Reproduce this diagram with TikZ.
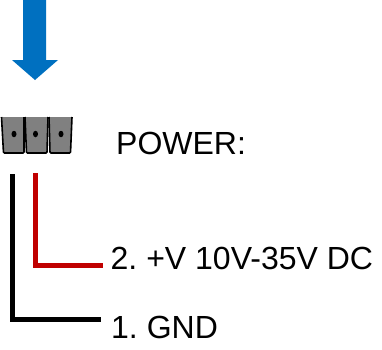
\documentclass[tikz,border=0pt]{standalone}
\usepackage{fontspec}
\setmainfont{Liberation Sans}
\usepackage{xcolor}
\usetikzlibrary{calc, positioning, shapes.geometric}
\definecolor{arrowblue}{RGB}{0,112,192}
\definecolor{wirered}{RGB}{192,0,0}
\definecolor{pingray}{RGB}{128,128,128}
\frenchspacing

\begin{document}
\begin{tikzpicture}[
    x=1pt, y=-1pt,
    label/.style={anchor=base west, inner sep=0pt, font=\fontsize{32}{33}\selectfont},
    wire/.style={line width=5pt, miter limit=10},
    pin/.style={fill=pingray, draw=black, line width=1.6pt, rounded corners=1pt},
    pinhole/.style={fill=black, draw=none, ellipse, minimum width=5pt, minimum height=6.5pt, inner sep=0pt}
]
\useasboundingbox (0,0) rectangle (382,349);

% Arrow
\fill[arrowblue] (23,0) -- (46,0) -- (46,60) -- (58,60) -- (35,80) -- (12,60) -- (23,60) -- cycle;

% Pins
\draw[pin] (1.5,117) -- (3.5,153) -- (24,153) -- (24,117);
\draw[pin] (25,117) -- (26.5,153) -- (47,153) -- (48,117);
\draw[pin] (49,117) -- (50,153) -- (70.5,153) -- (72,117);
\node[pinhole] (hole1) at (14,134) {};
\node[pinhole] (hole2) at (35.5,134) {};
\node[pinhole] (hole3) at (61,134) {};

% Labels
\node[label] (power) at (116,154) {POWER:};
\node[label] (plus) at (110.5,269) {2. +V 10V-35V DC};
\node[label] (gnd) at (111,338) {1. GND};

% Wires
\coordinate (redtop) at (35.5,173);
\coordinate (blacktop) at (12.5,174);
\coordinate (redend) at (103,265);
\coordinate (blackend) at (101,319);
\draw[wire, wirered] (redtop) |- (redend);
\draw[wire, black] (blacktop) |- (blackend);

\end{tikzpicture}
\end{document}
